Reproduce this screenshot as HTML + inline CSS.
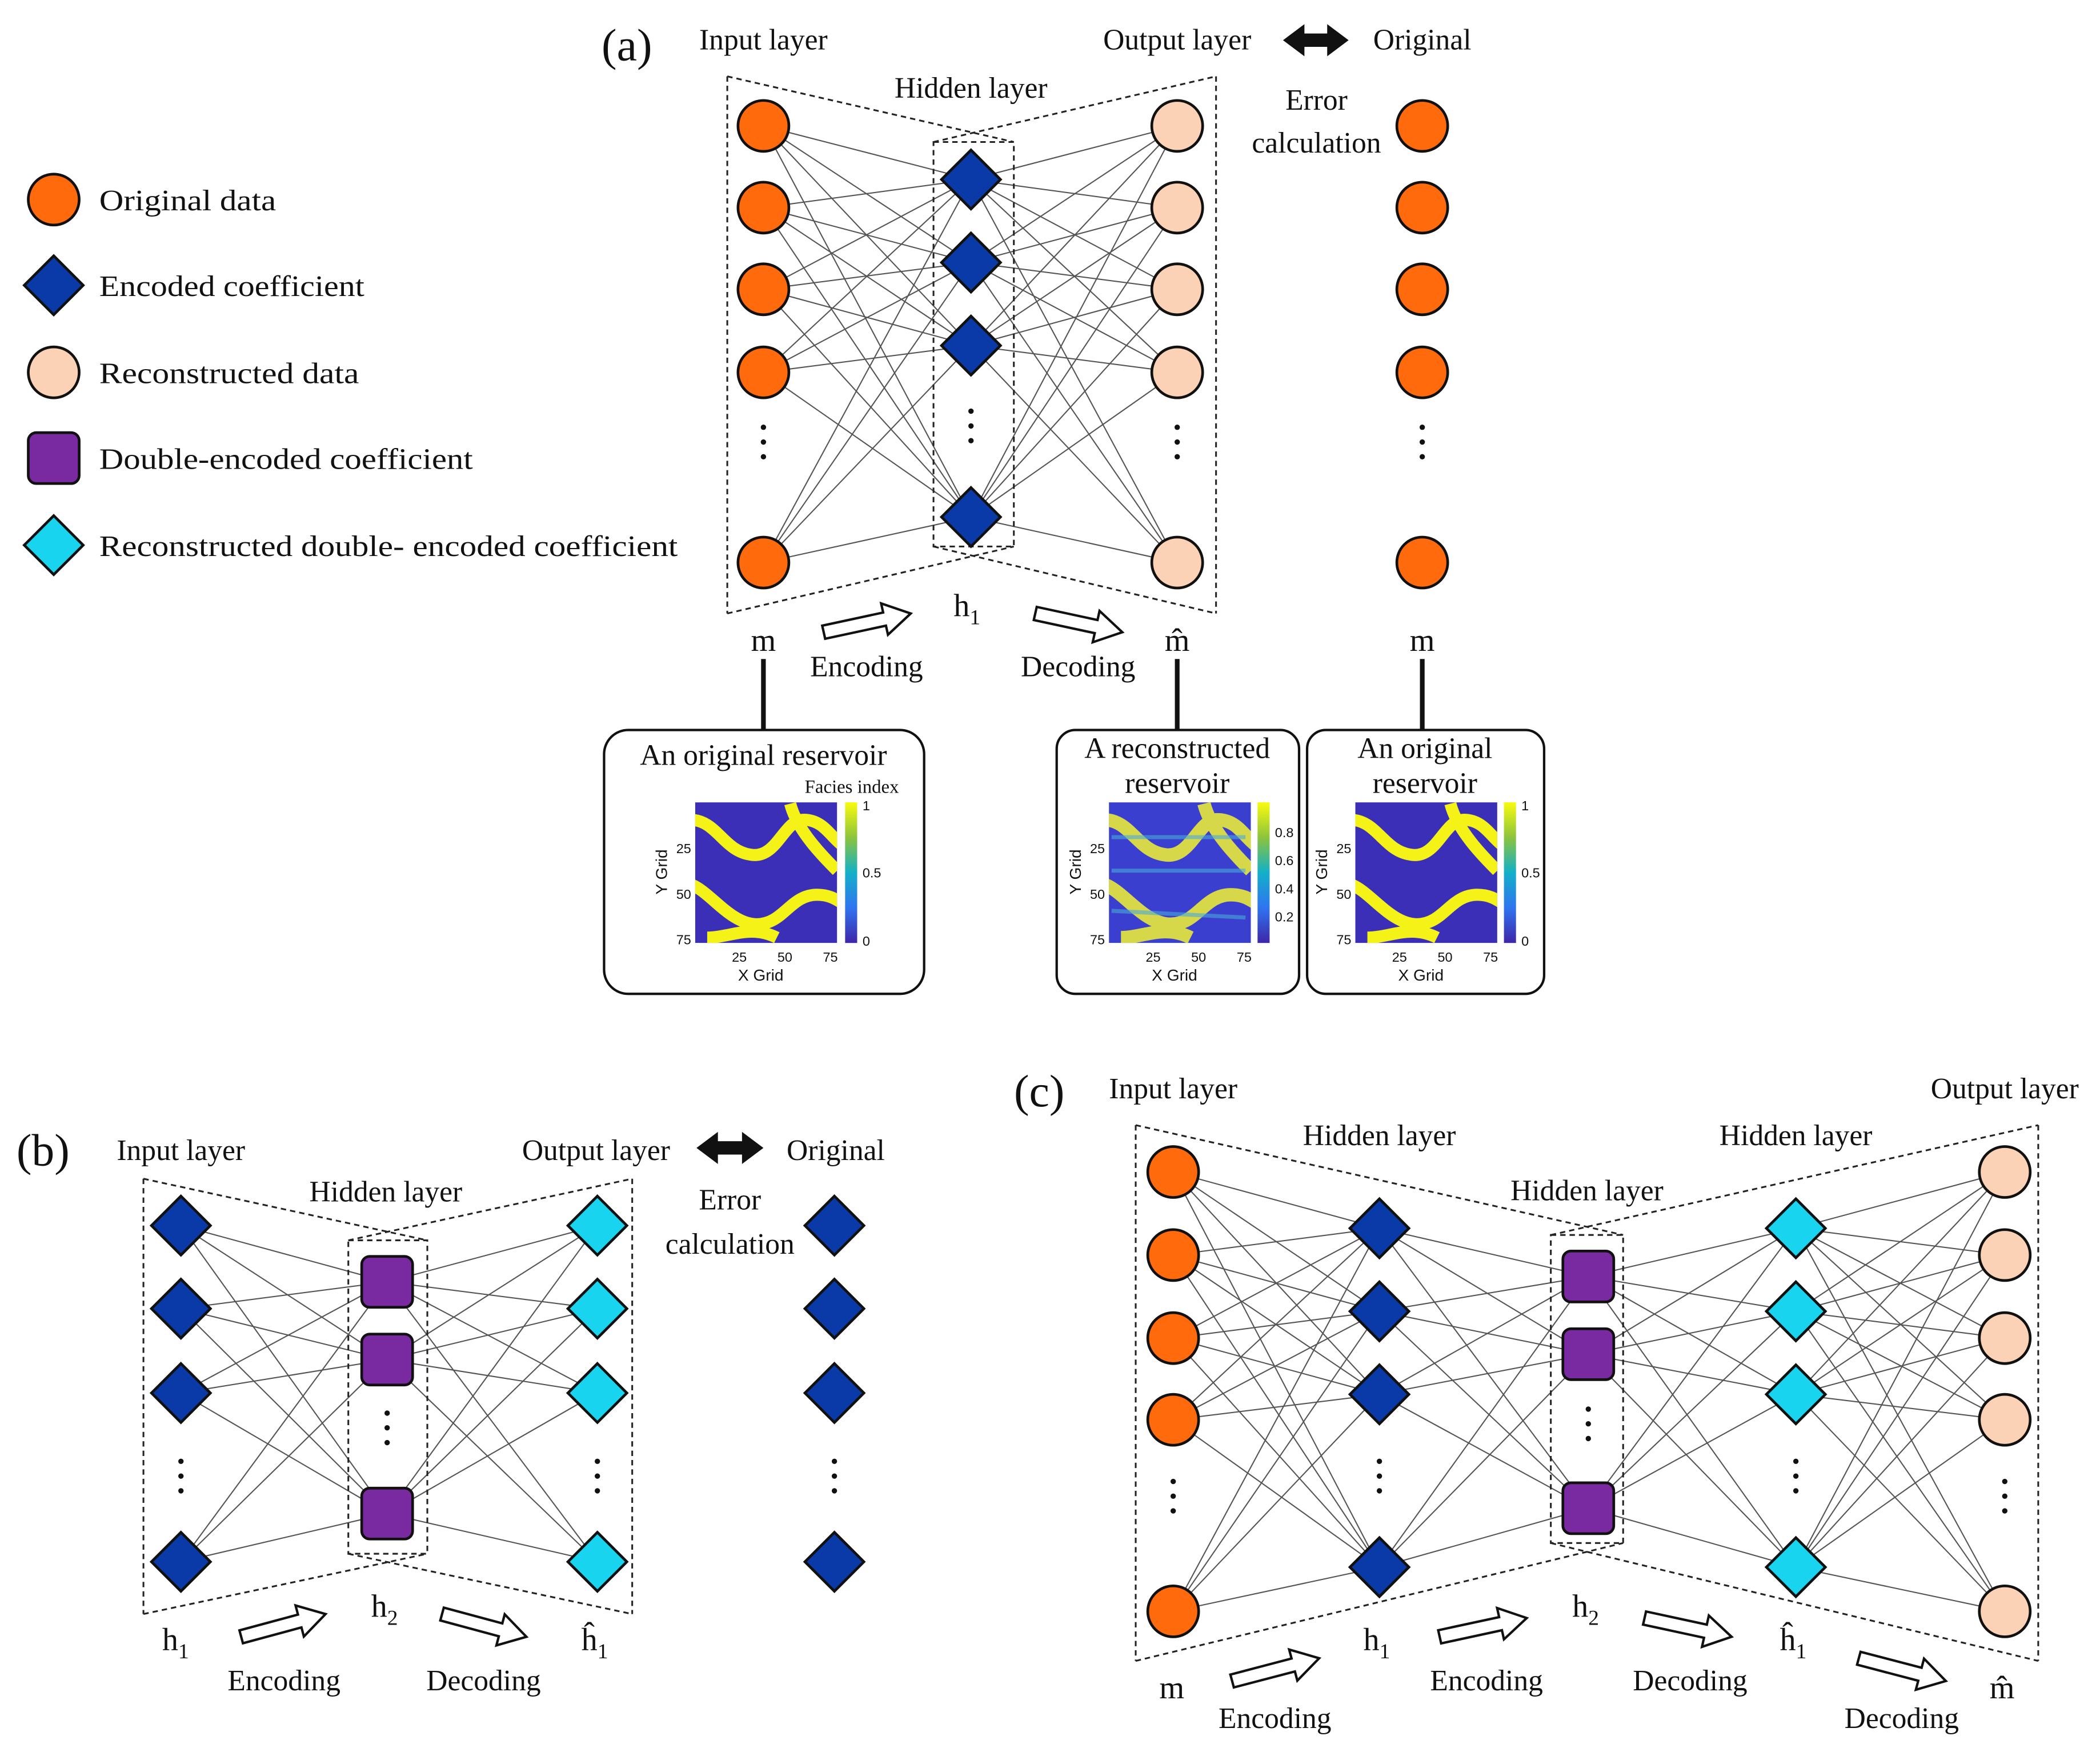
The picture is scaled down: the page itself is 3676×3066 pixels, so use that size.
<!DOCTYPE html>
<html><head><meta charset="utf-8"><style>
html,body{margin:0;padding:0;background:#fff}
svg{display:block}
text{font-family:"Liberation Serif",serif;fill:#111}
</style></head><body>
<svg id="s" width="3676" height="3066" viewBox="0 0 1568 1308" xmlns="http://www.w3.org/2000/svg">
<defs>
<clipPath id="c1"><rect x="519" y="599" width="106" height="105"/></clipPath>
<clipPath id="c2"><rect x="828" y="599" width="106" height="105"/></clipPath>
<clipPath id="c3"><rect x="1012" y="599" width="106" height="105"/></clipPath>
<linearGradient id="cb" x1="0" y1="1" x2="0" y2="0">
<stop offset="0" stop-color="#3e26a8"/><stop offset="0.25" stop-color="#2f74f0"/><stop offset="0.5" stop-color="#12b0c8"/><stop offset="0.75" stop-color="#8cc43c"/><stop offset="1" stop-color="#f9fb0e"/></linearGradient>
</defs>
<g id="lines" stroke="#555" stroke-width="0.9" fill="none"></g>
<g id="dash" stroke="#222" stroke-width="1.3" fill="none" stroke-dasharray="4,3">
<line x1="543" y1="57" x2="543" y2="458"/><line x1="908" y1="57" x2="908" y2="458"/>
<line x1="543" y1="57" x2="757" y2="106"/><line x1="697" y1="106" x2="908" y2="57"/>
<line x1="543" y1="458" x2="757" y2="408"/><line x1="697" y1="408" x2="908" y2="458"/>
<rect x="697" y="106" width="60" height="302"/>
<line x1="107" y1="880" x2="107" y2="1205"/><line x1="472" y1="880" x2="472" y2="1205"/>
<line x1="107" y1="880" x2="319" y2="926"/><line x1="260" y1="926" x2="472" y2="880"/>
<line x1="107" y1="1205" x2="319" y2="1160"/><line x1="260" y1="1160" x2="472" y2="1205"/>
<rect x="260" y="926" width="59" height="234"/>
<line x1="848" y1="840" x2="848" y2="1240"/><line x1="1522" y1="840" x2="1522" y2="1240"/>
<line x1="848" y1="840" x2="1212" y2="922"/><line x1="1158" y1="922" x2="1522" y2="840"/>
<line x1="848" y1="1240" x2="1212" y2="1152"/><line x1="1158" y1="1152" x2="1522" y2="1240"/>
<rect x="1158" y="922" width="54" height="230"/>
</g>
<g id="nodes"></g>
<g id="arrows" fill="#fff" stroke="#111" stroke-width="1.8"></g>
<g stroke="#111" stroke-width="3.5"><line x1="570" y1="492" x2="570" y2="545"/><line x1="879" y1="492" x2="879" y2="545"/><line x1="1062" y1="492" x2="1062" y2="545"/></g>
<g fill="#fff" stroke="#111" stroke-width="1.8">
<rect x="451" y="545" width="239" height="197" rx="18"/>
<rect x="789" y="545" width="181" height="197" rx="14"/>
<rect x="976" y="545" width="177" height="197" rx="14"/>
</g>
<g clip-path="url(#c1)"><rect x="519" y="599" width="106" height="105" fill="#3b2fb8"/>
<g stroke="#f4f216" stroke-width="9" fill="none">
<path d="M515,612 C535,612 540,635 560,638 C580,642 585,612 600,612 C615,612 620,625 630,632"/>
<path d="M590,600 C595,620 615,640 625,650"/>
<path d="M515,660 C530,665 545,690 565,690 C585,690 590,668 610,668 C620,668 625,672 630,675"/>
<path d="M528,700 C545,700 560,690 580,700"/></g></g>
<g clip-path="url(#c2)"><rect x="828" y="599" width="106" height="105" fill="#3a3fd0"/>
<g stroke="#e8e83a" stroke-width="10" fill="none" opacity="0.9">
<path d="M824,612 C844,612 849,635 869,638 C889,642 894,612 909,612 C924,612 929,625 939,632"/>
<path d="M899,600 C904,620 924,640 934,650"/>
<path d="M824,660 C839,665 854,690 874,690 C894,690 899,668 919,668 C929,668 934,672 939,675"/>
<path d="M837,700 C854,700 869,690 889,700"/></g>
<g stroke="#4aa8d8" stroke-width="3" fill="none" opacity="0.6"><path d="M830,625 L930,625 M830,650 L930,650 M830,680 L930,685"/></g></g>
<g clip-path="url(#c3)"><rect x="1012" y="599" width="106" height="105" fill="#3b2fb8"/>
<g stroke="#f4f216" stroke-width="9" fill="none">
<path d="M1008,612 C1028,612 1033,635 1053,638 C1073,642 1078,612 1093,612 C1108,612 1113,625 1123,632"/>
<path d="M1083,600 C1088,620 1108,640 1118,650"/>
<path d="M1008,660 C1023,665 1038,690 1058,690 C1078,690 1083,668 1103,668 C1113,668 1118,672 1123,675"/>
<path d="M1021,700 C1038,700 1053,690 1073,700"/></g></g>
<g><rect x="631" y="599" width="9" height="105" fill="url(#cb)"/><rect x="939" y="599" width="9" height="105" fill="url(#cb)"/><rect x="1123" y="599" width="9" height="105" fill="url(#cb)"/></g>
<g font-size="10">
<text x="552" y="718" text-anchor="middle" style="font-family:'Liberation Sans',sans-serif">25</text><text x="586" y="718" text-anchor="middle" style="font-family:'Liberation Sans',sans-serif">50</text><text x="620" y="718" text-anchor="middle" style="font-family:'Liberation Sans',sans-serif">75</text>
<text x="516" y="637" text-anchor="end" style="font-family:'Liberation Sans',sans-serif">25</text><text x="516" y="671" text-anchor="end" style="font-family:'Liberation Sans',sans-serif">50</text><text x="516" y="705" text-anchor="end" style="font-family:'Liberation Sans',sans-serif">75</text>
<text x="568" y="732" text-anchor="middle" font-size="12" style="font-family:'Liberation Sans',sans-serif">X Grid</text>
<text transform="translate(498,651) rotate(-90)" text-anchor="middle" font-size="12" style="font-family:'Liberation Sans',sans-serif">Y Grid</text>
<text x="644" y="605" style="font-family:'Liberation Sans',sans-serif">1</text><text x="644" y="655" style="font-family:'Liberation Sans',sans-serif">0.5</text><text x="644" y="706" style="font-family:'Liberation Sans',sans-serif">0</text>
<text x="861" y="718" text-anchor="middle" style="font-family:'Liberation Sans',sans-serif">25</text><text x="895" y="718" text-anchor="middle" style="font-family:'Liberation Sans',sans-serif">50</text><text x="929" y="718" text-anchor="middle" style="font-family:'Liberation Sans',sans-serif">75</text>
<text x="825" y="637" text-anchor="end" style="font-family:'Liberation Sans',sans-serif">25</text><text x="825" y="671" text-anchor="end" style="font-family:'Liberation Sans',sans-serif">50</text><text x="825" y="705" text-anchor="end" style="font-family:'Liberation Sans',sans-serif">75</text>
<text x="877" y="732" text-anchor="middle" font-size="12" style="font-family:'Liberation Sans',sans-serif">X Grid</text>
<text transform="translate(807,651) rotate(-90)" text-anchor="middle" font-size="12" style="font-family:'Liberation Sans',sans-serif">Y Grid</text>
<text x="952" y="625" style="font-family:'Liberation Sans',sans-serif">0.8</text><text x="952" y="646" style="font-family:'Liberation Sans',sans-serif">0.6</text><text x="952" y="667" style="font-family:'Liberation Sans',sans-serif">0.4</text><text x="952" y="688" style="font-family:'Liberation Sans',sans-serif">0.2</text>
<text x="1045" y="718" text-anchor="middle" style="font-family:'Liberation Sans',sans-serif">25</text><text x="1079" y="718" text-anchor="middle" style="font-family:'Liberation Sans',sans-serif">50</text><text x="1113" y="718" text-anchor="middle" style="font-family:'Liberation Sans',sans-serif">75</text>
<text x="1009" y="637" text-anchor="end" style="font-family:'Liberation Sans',sans-serif">25</text><text x="1009" y="671" text-anchor="end" style="font-family:'Liberation Sans',sans-serif">50</text><text x="1009" y="705" text-anchor="end" style="font-family:'Liberation Sans',sans-serif">75</text>
<text x="1061" y="732" text-anchor="middle" font-size="12" style="font-family:'Liberation Sans',sans-serif">X Grid</text>
<text transform="translate(991,651) rotate(-90)" text-anchor="middle" font-size="12" style="font-family:'Liberation Sans',sans-serif">Y Grid</text>
<text x="1136" y="605" style="font-family:'Liberation Sans',sans-serif">1</text><text x="1136" y="655" style="font-family:'Liberation Sans',sans-serif">0.5</text><text x="1136" y="706" style="font-family:'Liberation Sans',sans-serif">0</text>
</g>
<g font-size="22" text-anchor="middle">
<text x="570" y="571">An original reservoir</text>
<text x="636" y="592" font-size="14">Facies index</text>
<text x="879" y="566">A reconstructed</text><text x="879" y="592">reservoir</text>
<text x="1064" y="566">An original</text><text x="1064" y="592">reservoir</text>
<text x="468" y="45" font-size="34">(a)</text>
<text x="570" y="37">Input layer</text>
<text x="725" y="73">Hidden layer</text>
<text x="879" y="37">Output layer</text>
<text x="1062" y="37">Original</text>
<text x="983" y="82">Error</text><text x="983" y="114">calculation</text>
<text x="570" y="486" font-size="24">m</text>
<text x="722" y="460" font-size="24">h<tspan font-size="16" dy="6">1</tspan></text>
<text x="879" y="486" font-size="24">m̂</text>
<text x="1062" y="486" font-size="24">m</text>
<text x="647" y="505">Encoding</text><text x="805" y="505">Decoding</text>
<text x="32" y="870" font-size="34">(b)</text>
<text x="135" y="866">Input layer</text>
<text x="288" y="897">Hidden layer</text>
<text x="445" y="866">Output layer</text>
<text x="624" y="866">Original</text>
<text x="545" y="903">Error</text><text x="545" y="936">calculation</text>
<text x="131" y="1232" font-size="24">h<tspan font-size="16" dy="6">1</tspan></text>
<text x="287" y="1207" font-size="24">h<tspan font-size="16" dy="6">2</tspan></text>
<text x="444" y="1232" font-size="24">ĥ<tspan font-size="16" dy="6">1</tspan></text>
<text x="212" y="1262">Encoding</text><text x="361" y="1262">Decoding</text>
<text x="776" y="826" font-size="34">(c)</text>
<text x="876" y="820">Input layer</text>
<text x="1030" y="855">Hidden layer</text>
<text x="1185" y="896">Hidden layer</text>
<text x="1341" y="855">Hidden layer</text>
<text x="1497" y="820">Output layer</text>
<text x="875" y="1268" font-size="24">m</text>
<text x="1028" y="1232" font-size="24">h<tspan font-size="16" dy="6">1</tspan></text>
<text x="1184" y="1207" font-size="24">h<tspan font-size="16" dy="6">2</tspan></text>
<text x="1339" y="1232" font-size="24">ĥ<tspan font-size="16" dy="6">1</tspan></text>
<text x="1495" y="1268" font-size="24">m̂</text>
<text x="952" y="1290">Encoding</text><text x="1110" y="1262">Encoding</text>
<text x="1262" y="1262">Decoding</text><text x="1420" y="1290">Decoding</text>
</g>
<g font-size="22">
<text x="74" y="157" textLength="132" lengthAdjust="spacingAndGlyphs">Original data</text>
<text x="74" y="221" textLength="198" lengthAdjust="spacingAndGlyphs">Encoded coefficient</text>
<text x="74" y="286" textLength="194" lengthAdjust="spacingAndGlyphs">Reconstructed data</text>
<text x="74" y="350" textLength="279" lengthAdjust="spacingAndGlyphs">Double-encoded coefficient</text>
<text x="74" y="415" textLength="432" lengthAdjust="spacingAndGlyphs">Reconstructed double- encoded coefficient</text>
</g>
</svg>
<script>
var NS="http://www.w3.org/2000/svg";
var L=document.getElementById("lines"),N=document.getElementById("nodes"),A=document.getElementById("arrows");
function el(p,t,a){var e=document.createElementNS(NS,t);for(var k in a)e.setAttribute(k,a[k]);p.appendChild(e);return e;}
var OR="#ff6a0d",PE="#fcd2b6",BL="#0a3aa8",CY="#18d4ee",PU="#7a2aa0";
function node(type,x,y){
 if(type=="c"||type=="p") el(N,"circle",{cx:x,cy:y,r:19,fill:type=="c"?OR:PE,stroke:"#111","stroke-width":2});
 else if(type=="d"||type=="y") el(N,"polygon",{points:(x)+","+(y-22)+" "+(x+22)+","+y+" "+x+","+(y+22)+" "+(x-22)+","+y,fill:type=="d"?BL:CY,stroke:"#111","stroke-width":2});
 else el(N,"rect",{x:x-19,y:y-19,width:38,height:38,rx:6,fill:PU,stroke:"#111","stroke-width":2});
}
function dots(x,y){for(var i=-1;i<=1;i++)el(N,"circle",{cx:x,cy:y+i*11,r:2,fill:"#111"});}
function layer(type,x,ys,dy){ys.forEach(function(y){node(type,x,y)});dots(x,dy);}
function conn(x1,ys1,x2,ys2){ys1.forEach(function(a){ys2.forEach(function(b){el(L,"line",{x1:x1,y1:a,x2:x2,y2:b})})})}
var ia=[94,155,216,278,420],ha=[134,196,258,386];
conn(570,ia,725,ha);conn(725,ha,879,ia);
layer("c",570,ia,330);layer("d",725,ha,318);layer("p",879,ia,330);layer("c",1062,ia,330);
var ib=[915,977,1040,1166],hb=[957,1015,1130];
conn(135,ib,289,hb);conn(289,hb,446,ib);
layer("d",135,ib,1102);layer("s",289,hb,1066);layer("y",446,ib,1102);layer("d",623,ib,1102);
var ic=[875,937,999,1060,1203],h1=[917,979,1041,1170],h2=[953,1011,1126];
conn(876,ic,1030,h1);conn(1030,h1,1186,h2);conn(1186,h2,1341,h1);conn(1341,h1,1497,ic);
layer("c",876,ic,1117);layer("d",1030,h1,1102);layer("s",1186,h2,1063);layer("y",1341,h1,1102);layer("p",1497,ic,1117);
node("c",40,149);node("d",40,213);node("p",40,278);node("s",40,342);node("y",40,407);
function arrow(x1,y1,x2,y2){var dx=x2-x1,dy=y2-y1,l=Math.hypot(dx,dy),ux=dx/l,uy=dy/l,px=-uy,py=ux,s=5,h=12,hl=20;
 var bx=x2-ux*hl,by=y2-uy*hl;var pts=[[x1+px*s,y1+py*s],[bx+px*s,by+py*s],[bx+px*h,by+py*h],[x2,y2],[bx-px*h,by-py*h],[bx-px*s,by-py*s],[x1-px*s,y1-py*s]];
 el(A,"polygon",{points:pts.map(function(p){return p[0].toFixed(1)+","+p[1].toFixed(1)}).join(" ")});}
arrow(615,472,680,458);arrow(773,458,838,472);
arrow(180,1222,243,1205);arrow(330,1205,393,1222);
arrow(920,1255,985,1238);arrow(1075,1222,1140,1208);arrow(1228,1208,1293,1222);arrow(1388,1238,1453,1255);
function dbl(x1,x2,y){var h=12,hl=16,s=5;el(N,"polygon",{points:[x1+","+y,(x1+hl)+","+(y-h),(x1+hl)+","+(y-s),(x2-hl)+","+(y-s),(x2-hl)+","+(y-h),x2+","+y,(x2-hl)+","+(y+h),(x2-hl)+","+(y+s),(x1+hl)+","+(y+s),(x1+hl)+","+(y+h)].join(" "),fill:"#111"});}
dbl(958,1007,30);dbl(520,570,857);
</script>
</body></html>
